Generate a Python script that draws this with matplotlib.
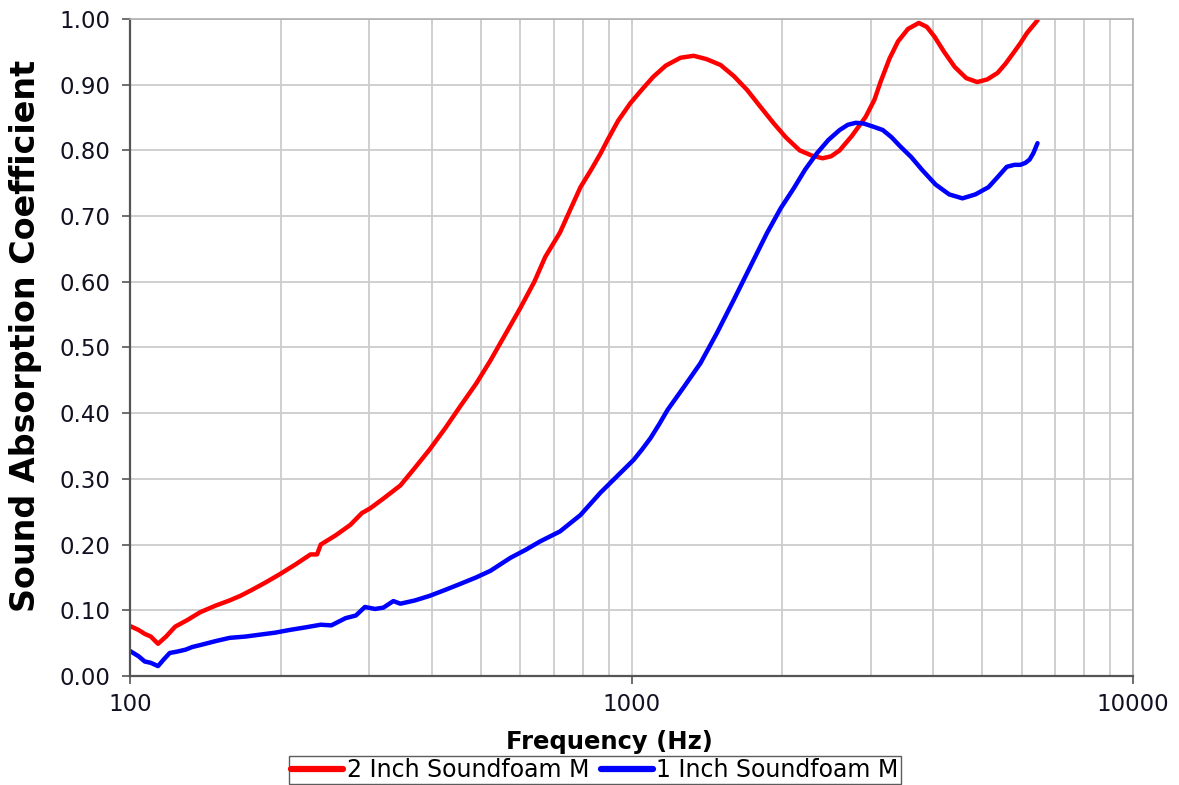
import matplotlib
matplotlib.use("Agg")
import matplotlib.pyplot as plt
from matplotlib.ticker import FixedLocator, NullFormatter, LogLocator

freq_2in = [100, 104, 107, 110, 113.7, 118, 123, 130, 138, 148, 158, 166, 174, 186, 199, 214, 229, 236, 240, 257, 275, 290, 301, 320, 346, 370, 396, 425, 455, 490, 523, 567, 600, 640, 673, 720, 755, 791, 830, 867, 896, 940, 995, 1050, 1105, 1170, 1252, 1330, 1410, 1505, 1600, 1700, 1800, 1917, 2030, 2164, 2290, 2405, 2500, 2600, 2750, 2930, 3050, 3140, 3270, 3400, 3560, 3740, 3880, 4020, 4200, 4410, 4650, 4890, 5120, 5370, 5570, 5770, 5960, 6150, 6450]
abs_2in = [0.076, 0.070, 0.064, 0.060, 0.049, 0.060, 0.075, 0.085, 0.097, 0.107, 0.115, 0.122, 0.130, 0.142, 0.155, 0.170, 0.185, 0.185, 0.200, 0.214, 0.230, 0.248, 0.255, 0.270, 0.290, 0.317, 0.345, 0.377, 0.410, 0.445, 0.480, 0.527, 0.560, 0.600, 0.638, 0.675, 0.710, 0.744, 0.770, 0.795, 0.816, 0.845, 0.872, 0.893, 0.912, 0.929, 0.941, 0.944, 0.939, 0.930, 0.913, 0.892, 0.868, 0.842, 0.820, 0.800, 0.792, 0.788, 0.791, 0.800, 0.822, 0.851, 0.877, 0.905, 0.940, 0.966, 0.985, 0.994, 0.988, 0.973, 0.950, 0.927, 0.910, 0.904, 0.908, 0.918, 0.932, 0.948, 0.963, 0.979, 0.998]

freq_1in = [100, 104, 107, 110, 113.7, 117, 120, 124, 129, 133, 138, 148, 158, 170, 182, 195, 208, 224, 240, 252, 269, 282, 294, 308, 320, 335, 346, 370, 396, 425, 455, 490, 523, 574, 615, 658, 720, 791, 867, 930, 1010, 1050, 1091, 1135, 1180, 1272, 1372, 1480, 1598, 1730, 1862, 1984, 2105, 2220, 2345, 2470, 2600, 2700, 2800, 2900, 3010, 3170, 3300, 3435, 3610, 3800, 4040, 4300, 4570, 4850, 5150, 5380, 5600, 5800, 5960, 6100, 6220, 6330, 6450]
abs_1in = [0.038, 0.030, 0.022, 0.020, 0.015, 0.026, 0.035, 0.037, 0.040, 0.044, 0.047, 0.053, 0.058, 0.060, 0.063, 0.066, 0.070, 0.074, 0.078, 0.077, 0.088, 0.092, 0.105, 0.102, 0.104, 0.114, 0.110, 0.115, 0.122, 0.131, 0.140, 0.150, 0.160, 0.180, 0.192, 0.205, 0.220, 0.245, 0.279, 0.302, 0.329, 0.345, 0.362, 0.383, 0.405, 0.440, 0.476, 0.522, 0.572, 0.625, 0.674, 0.712, 0.742, 0.771, 0.796, 0.816, 0.831, 0.839, 0.842, 0.841, 0.837, 0.831, 0.820, 0.806, 0.790, 0.770, 0.748, 0.733, 0.727, 0.733, 0.744, 0.760, 0.775, 0.778, 0.778, 0.781, 0.786, 0.796, 0.811]

series_labels = ["2 Inch Soundfoam M", "1 Inch Soundfoam M"]
y_ticks = [0.0, 0.1, 0.2, 0.3, 0.4, 0.5, 0.6, 0.7, 0.8, 0.9, 1.0]
x_ticks = [100, 1000, 10000]

fig = plt.figure(figsize=(11.79, 7.85), dpi=100)
ax = fig.add_axes([0.1103, 0.1389, 0.8507, 0.8369])

ax.plot(freq_2in, abs_2in, color="#ff0000", lw=3.2, label=series_labels[0], solid_capstyle="round", solid_joinstyle="round")
ax.plot(freq_1in, abs_1in, color="#0000ff", lw=3.2, label=series_labels[1], solid_capstyle="round", solid_joinstyle="round")

ax.set_xscale("log")
ax.set_xlim(100, 10000)
ax.set_ylim(0, 1.0)
ax.xaxis.set_major_locator(FixedLocator(x_ticks))
ax.set_xticklabels([str(v) for v in x_ticks])
ax.xaxis.set_minor_locator(LogLocator(base=10, subs=range(2, 10)))
ax.xaxis.set_minor_formatter(NullFormatter())
ax.set_yticks(y_ticks)
ax.set_yticklabels([f"{v:.2f}" for v in y_ticks])

ax.grid(True, which="major", color="#cccccc", lw=1.3)
ax.grid(True, which="minor", axis="x", color="#cccccc", lw=1.3)
ax.set_axisbelow(True)

for s in ["top", "right"]:
    ax.spines[s].set_color("#b0b0b0")
    ax.spines[s].set_linewidth(1.2)
for s in ["left", "bottom"]:
    ax.spines[s].set_color("#555555")
    ax.spines[s].set_linewidth(1.6)

ax.tick_params(axis="both", which="major", direction="out", length=6, width=1.2, color="#555555", labelsize=16.5, labelcolor="#111122")
ax.tick_params(axis="x", which="minor", length=0)
ax.tick_params(axis="y", pad=8)
ax.tick_params(axis="x", pad=6)

ax.set_ylabel("Sound Absorption Coefficient", fontsize=24, fontweight="bold", va="center")
ax.yaxis.set_label_coords(-0.1047, 0.517)
ax.set_xlabel("Frequency (Hz)", fontsize=17.5, fontweight="bold", va="center")
ax.xaxis.set_label_coords(0.4776, -0.1005)

leg = fig.legend(loc="center", bbox_to_anchor=(0.5047, 0.019), ncol=2, frameon=True,
                 fancybox=False, edgecolor="#333333", fontsize=17, handlelength=2.2,
                 columnspacing=0.5, handletextpad=0.15, borderpad=0.1, borderaxespad=0)
leg.get_frame().set_linewidth(1.0)
for line in leg.get_lines():
    line.set_linewidth(4.5)

fig.savefig("out.png", dpi=100)
